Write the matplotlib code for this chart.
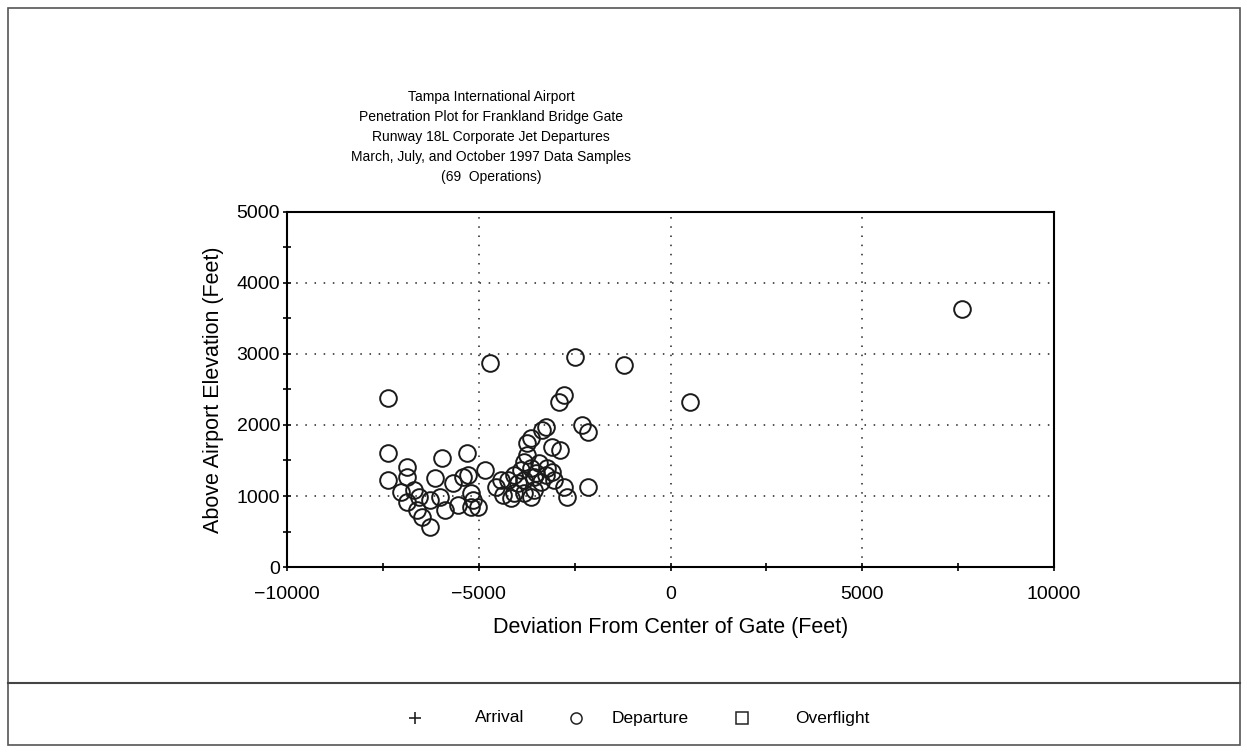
import numpy as np
import matplotlib
matplotlib.use('Agg')
import matplotlib.pyplot as plt
from matplotlib.lines import Line2D
from matplotlib.patches import Rectangle

plt.rcParams['font.family'] = ['Liberation Sans', 'DejaVu Sans']

# departures: deviation from gate centre (ft), altitude above airport (ft)
dev_ft = [-7355, -4720, -2500, -1225, 520, 7590,
          -7355, -5950, -5320, -6885, -7380, -6885, -6130, -5660, -5400, -5270,
          -4825, -7040, -6700, -6570, -6860, -6260, -6000, -5870, -5555, -5215,
          -5215, -5030, -5140, -6470, -6260, -6600,
          -2920, -2790, -2300, -2140, -3260, -3340, -3650, -3730, -3080, -2870,
          -3730, -3830, -3440, -3210, -3080, -3260, -3650, -3910, -4090, -4250,
          -3570, -3830, -3990, -3390, -3050, -4430, -4560, -4380, -4090, -3830,
          -3570, -3650, -4170, -2790, -2690, -2160, -3500]
alt_ft = [2380, 2870, 2960, 2840, 2320, 3630,
          1605, 1535, 1605, 1410, 1225, 1270, 1250, 1180, 1270, 1295,
          1365, 1055, 1085, 985, 915, 945, 985, 800, 870, 1040,
          845, 845, 945, 705, 565, 800,
          2320, 2420, 2000, 1900, 1970, 1930, 1815, 1745, 1690, 1650,
          1580, 1480, 1465, 1395, 1340, 1295, 1395, 1365, 1295, 1225,
          1270, 1225, 1180, 1195, 1225, 1225, 1125, 1015, 1040, 1040,
          1085, 985, 970, 1125, 985, 1125, 1330]

title_lines = ['Tampa International Airport',
               'Penetration Plot for Frankland Bridge Gate',
               'Runway 18L Corporate Jet Departures',
               'March, July, and October 1997 Data Samples',
               '(69  Operations)']

fig = plt.figure(figsize=(12.47, 7.53), dpi=100)
ax = fig.add_axes([0.2302, 0.247, 0.615, 0.4715])

ax.plot(dev_ft, alt_ft, linestyle='none', marker='o', markersize=12,
        markerfacecolor='none', markeredgecolor='#1a1a1a', markeredgewidth=1.4)

ax.set_xlim(-10000, 10000)
ax.set_ylim(0, 5000)
ax.set_xticks([-10000, -5000, 0, 5000, 10000])
ax.set_xticklabels(['\u221210000', '\u22125000', '0', '5000', '10000'])
ax.set_xticks(np.arange(-10000, 10001, 2500), minor=True)
ax.set_yticks([0, 1000, 2000, 3000, 4000, 5000])
ax.set_yticks(np.arange(0, 5001, 500), minor=True)
ax.tick_params(which='both', direction='inout', length=6, width=1.2, labelsize=14)
ax.tick_params(axis='x', pad=11)
ax.tick_params(axis='y', pad=2)

for v in [-5000, 0, 5000]:
    ax.axvline(v, color='#222222', linestyle=(0, (1, 5)), linewidth=1.1, zorder=0)
for v in [1000, 2000, 3000, 4000]:
    ax.axhline(v, color='#222222', linestyle=(0, (1, 5)), linewidth=1.1, zorder=0)

for s in ax.spines.values():
    s.set_linewidth(1.5)

ax.set_xlabel('Deviation From Center of Gate (Feet)', fontsize=15.5, labelpad=10)
ax.set_ylabel('Above Airport Elevation (Feet)', fontsize=15.5, labelpad=9)

for i, line in enumerate(title_lines):
    fig.text(491 / 1247, 1 - (97 + 20 * i) / 753, line, ha='center', va='center', fontsize=10)

# page frame and legend strip
fig.add_artist(Rectangle((8 / 1247, 8 / 753), 1232 / 1247, 737 / 753, transform=fig.transFigure,
                         fill=False, edgecolor='#555555', linewidth=1.2))
fig.add_artist(Line2D([8 / 1247, 1240 / 1247], [1 - 683 / 753, 1 - 683 / 753],
                      transform=fig.transFigure, color='#444444', linewidth=1.5))

ly = 1 - 718 / 753
fig.add_artist(Line2D([415 / 1247], [ly], marker='+', markersize=9, color='#222222',
                      markeredgewidth=1.2, transform=fig.transFigure))
fig.text(475 / 1247, ly, 'Arrival', va='center', fontsize=12.5)
fig.add_artist(Line2D([576 / 1247], [ly], marker='o', markersize=8, markerfacecolor='none',
                      markeredgecolor='#222222', markeredgewidth=1.1, transform=fig.transFigure))
fig.text(612 / 1247, ly, 'Departure', va='center', fontsize=12.5)
fig.add_artist(Line2D([742 / 1247], [ly], marker='s', markersize=8, markerfacecolor='none',
                      markeredgecolor='#222222', markeredgewidth=1.1, transform=fig.transFigure))
fig.text(795 / 1247, ly, 'Overflight', va='center', fontsize=12.5)

fig.savefig('out.png', dpi=100)
